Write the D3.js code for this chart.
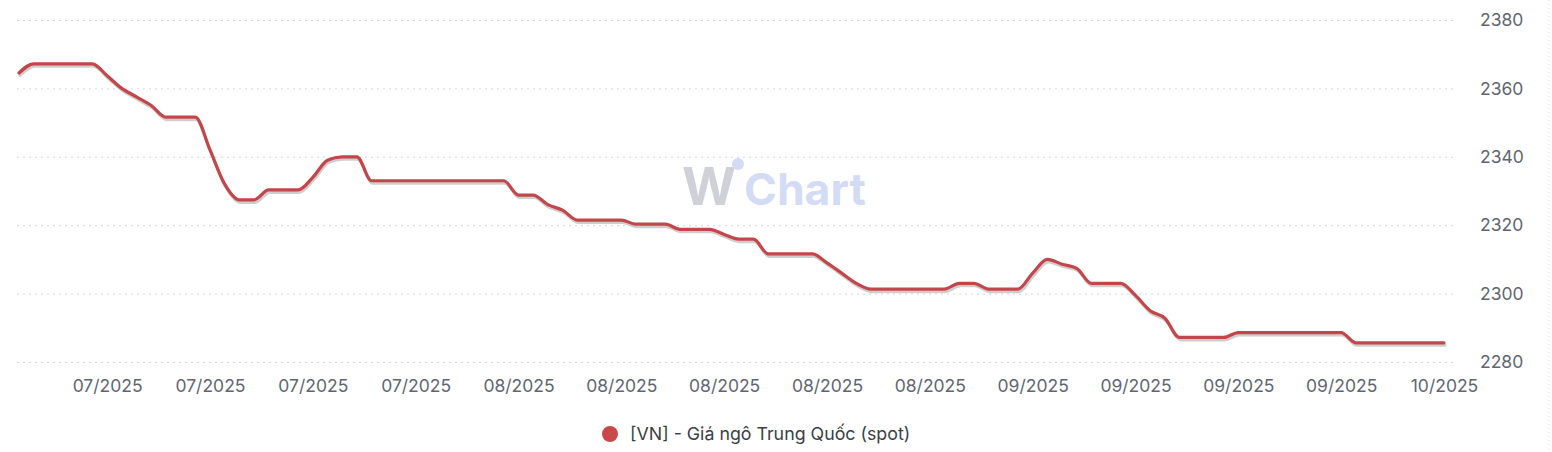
<!DOCTYPE html>
<html>
<head>
<meta charset="utf-8">
<script src="https://cdn.jsdelivr.net/npm/d3@7"></script>
<style>
  html, body { margin: 0; padding: 0; background: #ffffff; }
  svg { display: block; font-family: Inter, "Noto Sans", sans-serif; }
</style>
</head>
<body>
<svg id="chart" width="1552" height="452"></svg>
<script>
// ---- data ----
const startDate = "2025-06-28";
const seriesName = "[VN] - Giá ngô Trung Quốc (spot)";
const values = [
  2364.5, 2367.2, 2367.2, 2367.2, 2367.2, 2367.2, 2363.7, 2360.0, 2357.5, 2355.0,
  2351.6, 2351.6, 2351.6, 2342.0, 2332.0, 2327.4, 2327.4, 2330.3, 2330.3, 2330.3,
  2334.0, 2339.0, 2340.0, 2340.0, 2333.0, 2333.0, 2333.0, 2333.0, 2333.0, 2333.0,
  2333.0, 2333.0, 2333.0, 2333.0, 2328.8, 2328.8, 2326.0, 2324.4, 2321.5, 2321.5,
  2321.5, 2321.5, 2320.3, 2320.3, 2320.3, 2318.8, 2318.8, 2318.8, 2317.3, 2315.9,
  2315.9, 2311.6, 2311.6, 2311.6, 2311.6, 2309.0, 2306.0, 2303.0, 2301.3, 2301.3,
  2301.3, 2301.3, 2301.3, 2301.3, 2303.0, 2303.0, 2301.3, 2301.3, 2301.3, 2306.0,
  2310.0, 2308.6, 2307.4, 2303.0, 2303.0, 2303.0, 2299.5, 2295.0, 2292.8, 2287.2,
  2287.2, 2287.2, 2287.2, 2288.6, 2288.6, 2288.6, 2288.6, 2288.6, 2288.6, 2288.6,
  2288.6, 2285.6, 2285.6, 2285.6, 2285.6, 2285.6, 2285.6, 2285.6
];
const xTickDates = [
  "2025-07-04", "2025-07-11", "2025-07-18", "2025-07-25",
  "2025-08-01", "2025-08-08", "2025-08-15", "2025-08-22", "2025-08-29",
  "2025-09-05", "2025-09-12", "2025-09-19", "2025-09-26", "2025-10-03"
];
const yTicks = [2280, 2300, 2320, 2340, 2360, 2380];

// ---- build ----
const parse = d3.utcParse("%Y-%m-%d");
const fmt = d3.utcFormat("%m/%Y");
const t0 = parse(startDate);
const data = values.map((v, i) => ({ date: d3.utcDay.offset(t0, i), value: v }));

const svg = d3.select("#chart");
const x = d3.scaleUtc()
  .domain([t0, data[data.length - 1].date])
  .range([19, 1444]);
const y = d3.scaleLinear().domain([2280, 2380]).range([362, 20]);

const gridLeft = 17, gridRight = 1453;

// right border dotted line
svg.append("line")
  .attr("x1", 1549).attr("x2", 1549).attr("y1", 0).attr("y2", 452)
  .attr("stroke", "#e3e3e3").attr("stroke-width", 1).attr("stroke-dasharray", "1,3");

// gridlines
svg.append("g").selectAll("line").data(yTicks).join("line")
  .attr("x1", gridLeft).attr("x2", gridRight)
  .attr("y1", d => y(d) + 0.5).attr("y2", d => y(d) + 0.5)
  .attr("stroke", "#d4d6da").attr("stroke-width", 1).attr("stroke-dasharray", "2,4");

// y axis labels (right)
const yAxis = d3.axisRight(y).tickValues(yTicks).tickSize(0).tickPadding(0).tickFormat(d3.format("d"));
const gy = svg.append("g").attr("transform", "translate(1480,0)").call(yAxis);
gy.select(".domain").remove();
gy.selectAll("text").attr("font-size", 17.5).attr("fill", "#5f6672").attr("font-family", "Inter, sans-serif");

// x axis labels
const xAxis = d3.axisBottom(x).tickValues(xTickDates.map(parse)).tickSize(0).tickPadding(0).tickFormat(fmt);
const gx = svg.append("g").attr("transform", "translate(0,380)").call(xAxis);
gx.select(".domain").remove();
gx.selectAll("text").attr("font-size", 17.5).attr("fill", "#5f6672").attr("font-family", "Inter, sans-serif");

// watermark
const wm = svg.append("g").attr("font-family", "Inter, sans-serif").attr("font-weight", 700);
wm.append("text").attr("x", 682).attr("y", 205).attr("font-size", 52).attr("fill", "#cfd0d8").text("W");
wm.append("circle").attr("cx", 738).attr("cy", 164).attr("r", 6).attr("fill", "#d3dbf5");
wm.append("text").attr("x", 744).attr("y", 205).attr("font-size", 44.5).attr("fill", "#d3dbf5").text("Chart");

// line
const line = d3.line().x(d => x(d.date)).y(d => y(d.value)).curve(d3.curveMonotoneX);
svg.append("path").datum(data)
  .attr("d", line)
  .attr("transform", "translate(1,2.5)")
  .attr("fill", "none").attr("stroke", "#b9b9b9").attr("stroke-opacity", 0.7)
  .attr("stroke-width", 3).attr("stroke-linejoin", "round").attr("stroke-linecap", "round");
svg.append("path").datum(data)
  .attr("d", line)
  .attr("fill", "none").attr("stroke", "#c4464a")
  .attr("stroke-width", 3.2).attr("stroke-linejoin", "round").attr("stroke-linecap", "round");

// legend
const lg = svg.append("g").attr("transform", "translate(610,434)");
lg.append("circle").attr("r", 8).attr("fill", "#c9484a");
lg.append("text").attr("x", 20).attr("y", 0).attr("dy", "0.35em")
  .attr("font-size", 17.8).attr("fill", "#3a3f47").attr("font-family", "Inter, sans-serif")
  .text(seriesName);
</script>
</body>
</html>
